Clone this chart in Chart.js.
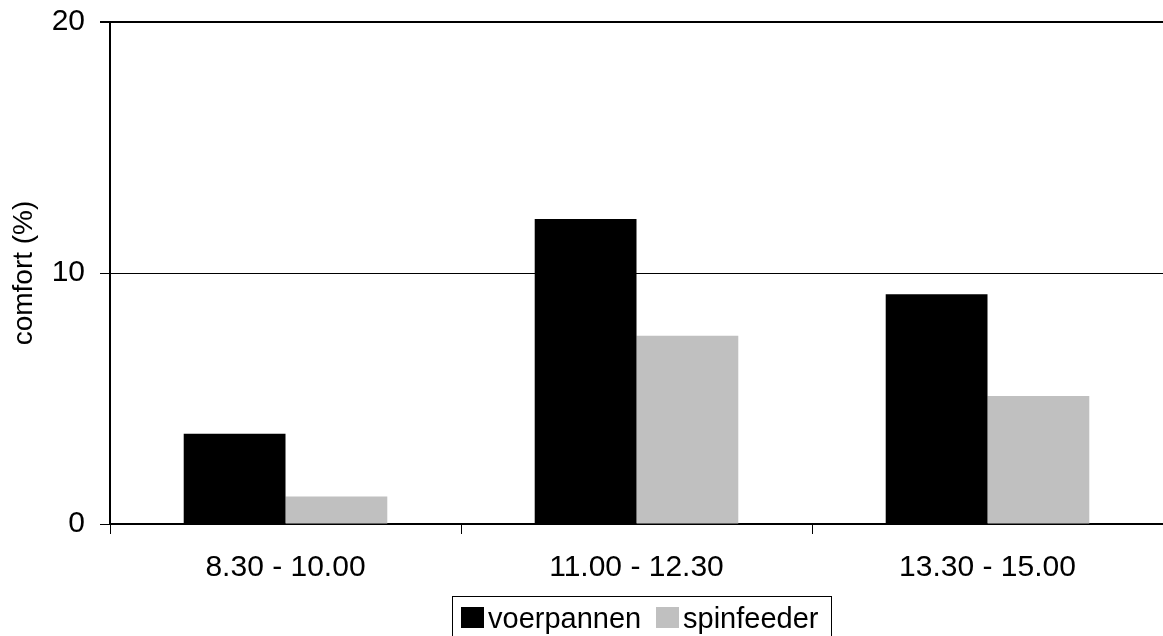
<!DOCTYPE html>
<html>
<head>
<meta charset="utf-8">
<style>
  html, body { margin: 0; padding: 0; background: #ffffff; }
  #wrap { width: 1163px; height: 636px; position: relative; }
</style>
<script src="https://cdn.jsdelivr.net/npm/chart.js@4/dist/chart.umd.min.js"></script>
</head>
<body>
<div id="wrap"><canvas id="c" width="1163" height="636"></canvas></div>
<script>
// Time slots and comfort percentages per feeding system
const categories = ['8.30 - 10.00', '11.00 - 12.30', '13.30 - 15.00'];
const voerpannen = [3.6, 12.15, 9.15];
const spinfeeder = [1.1, 7.5, 5.1];
const yTicks = [0, 10, 20];
const seriesNames = ['voerpannen', 'spinfeeder'];
const seriesColors = ['#000000', '#c0c0c0'];

const FONT = 'Liberation Sans, Arial, Helvetica, sans-serif';

// Framed legend drawn below the x-axis labels
const boxedLegend = {
  id: 'boxedLegend',
  afterDraw(chart) {
    const ctx = chart.ctx;
    ctx.save();
    ctx.strokeStyle = '#000000';
    ctx.lineWidth = 1;
    ctx.strokeRect(452.5, 596.5, 379, 50);
    ctx.font = '29px ' + FONT;
    ctx.textBaseline = 'alphabetic';
    ctx.textAlign = 'left';
    const items = [
      { sx: 461, tx: 488 },
      { sx: 656, tx: 683 }
    ];
    chart.data.datasets.forEach((ds, i) => {
      const it = items[i];
      ctx.fillStyle = ds.backgroundColor;
      ctx.fillRect(it.sx, 607, 23, 21);
      ctx.fillStyle = '#000000';
      ctx.fillText(ds.label, it.tx, 628);
    });
    ctx.restore();
  }
};

new Chart(document.getElementById('c'), {
  type: 'bar',
  data: {
    labels: categories,
    datasets: [
      { label: seriesNames[0], data: voerpannen, backgroundColor: seriesColors[0], borderWidth: 0 },
      { label: seriesNames[1], data: spinfeeder, backgroundColor: seriesColors[1], borderWidth: 0 }
    ]
  },
  options: {
    responsive: false,
    animation: false,
    devicePixelRatio: 1,
    layout: { padding: { top: 22, right: 0, bottom: 0, left: 0 } },
    datasets: { bar: { categoryPercentage: 0.58, barPercentage: 1.0 } },
    plugins: {
      legend: { display: false },
      tooltip: { enabled: false }
    },
    scales: {
      x: {
        offset: true,
        grid: {
          offset: true,
          drawOnChartArea: false,
          drawTicks: true,
          tickLength: 10,
          color: '#000000',
          lineWidth: 1
        },
        border: { display: true, color: '#000000', width: 2 },
        ticks: {
          color: '#000000',
          font: { family: FONT, size: 30 },
          padding: 16,
          maxRotation: 0
        },
        afterFit(scale) {
          scale.height = 112;
          scale.paddingLeft = 0;
          scale.paddingRight = 0;
        }
      },
      y: {
        min: 0,
        max: 20,
        afterBuildTicks(scale) { scale.ticks = yTicks.map(v => ({ value: v })); },
        grid: {
          drawTicks: true,
          tickLength: 10,
          color: '#000000',
          lineWidth: (c) => (c.tick && c.tick.value === 20 ? 2 : 1)
        },
        border: { display: true, color: '#000000', width: 2 },
        ticks: {
          color: '#000000',
          font: { family: FONT, size: 30 },
          padding: 15
        },
        title: {
          display: true,
          text: 'comfort (%)',
          color: '#000000',
          font: { family: FONT, size: 28 },
          padding: { top: 7, bottom: 0 }
        },
        afterFit(scale) {
          scale.width = 110;
          scale.paddingTop = 0;
          scale.paddingBottom = 0;
        }
      }
    }
  },
  plugins: [boxedLegend]
});
</script>
</body>
</html>
